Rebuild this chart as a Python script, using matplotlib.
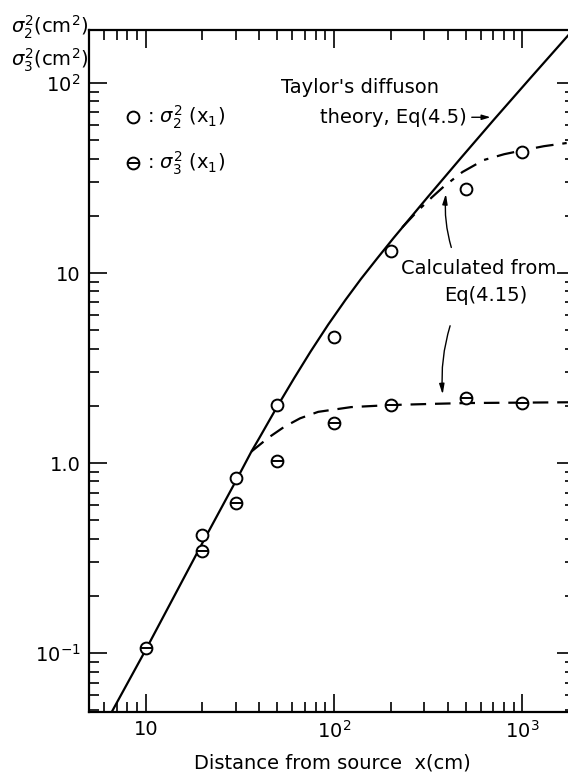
import numpy as np
import matplotlib
matplotlib.use("Agg")
import matplotlib.pyplot as plt
from matplotlib.ticker import FixedLocator, FixedFormatter, LogLocator, NullFormatter

plt.rcParams['font.family'] = ['DejaVu Sans']
plt.rcParams['mathtext.fontset'] = 'dejavusans'

#%% data
# measured variances (cm^2) vs distance from source (cm)
x_sig2 = [20, 30, 50, 100, 200, 500, 1000]
sig2 = [0.42, 0.83, 2.02, 4.6, 13.1, 27.7, 43.4]

x_sig3 = [10, 20, 30, 50, 100, 200, 500, 1000]
sig3 = [0.106, 0.344, 0.62, 1.02, 1.62, 2.02, 2.2, 2.07]

# Taylor's diffusion theory, Eq(4.5)
x_taylor = [6.45, 10, 20, 30, 36.4, 40, 50, 61.4, 75, 93, 115, 139, 170, 207,
            314, 470, 703, 1100, 1730, 1900]
y_taylor = [0.047, 0.104, 0.38, 0.80, 1.15, 1.35, 1.99, 2.80, 3.86, 5.35, 7.23, 9.32, 12.0, 15.3,
            25.1, 40.2, 63.9, 106, 176, 195]

# Eq(4.15) for sigma_2^2 (dash-dot)
x_calc2 = [230, 280, 330, 382, 480, 622, 800, 1000, 1300, 1900]
y_calc2 = [17.4, 21.4, 25.0, 28.5, 34.0, 39.3, 42.2, 44.2, 46.5, 49.0]

# Eq(4.15) for sigma_3^2 (dashed)
x_calc3 = [36.4, 44.8, 54.3, 66, 82.3, 123, 200, 340, 512, 1000, 1900]
y_calc3 = [1.15, 1.36, 1.55, 1.72, 1.86, 1.97, 2.02, 2.05, 2.07, 2.08, 2.09]

#%% plot
fig = plt.figure(figsize=(5.68, 7.77), dpi=100)
ax = fig.add_axes([89/568, 65/777, (575-89)/568, (712-30)/777])
ax.set_xscale('log')
ax.set_yscale('log')
ax.set_xlim(5, 1900)
ax.set_ylim(0.049, 190)

ax.plot(x_taylor, y_taylor, color='black', lw=1.6)
ax.plot(x_calc2, y_calc2, color='black', lw=1.6, dashes=(8, 4, 2, 4))
ax.plot(x_calc3, y_calc3, color='black', lw=1.6, dashes=(7, 4))

ms = 8.5
ax.plot(x_sig2, sig2, 'o', ms=ms, mfc='white', mec='black', mew=1.4, zorder=3)
ax.plot(x_sig3, sig3, 'o', ms=ms, mfc='white', mec='black', mew=1.4, zorder=3)
ax.plot(x_sig3, sig3, '_', ms=ms, mec='black', mew=1.4, zorder=4)

# legend keys
ax.plot([8.6], [66], 'o', ms=ms, mfc='white', mec='black', mew=1.4)
ax.plot([8.6], [38], 'o', ms=ms, mfc='white', mec='black', mew=1.4)
ax.plot([8.6], [38], '_', ms=ms, mec='black', mew=1.4)
ax.text(10.2, 66, r': $\sigma_2^2$ (x$_1$)', fontsize=14, va='center')
ax.text(10.2, 38, r': $\sigma_3^2$ (x$_1$)', fontsize=14, va='center')

# annotations
ax.text(52, 95, "Taylor's diffuson", fontsize=14, va='center')
ax.text(505, 66, "theory, Eq(4.5)", fontsize=14, va='center', ha='right')
ax.annotate('', xy=(700, 66), xytext=(520, 66),
            arrowprops=dict(arrowstyle='-|>,head_length=0.5,head_width=0.15',
                            color='black', lw=1))
ax.text(585, 10.5, "Calculated from", fontsize=14, va='center', ha='center')
ax.text(640, 7.6, "Eq(4.15)", fontsize=14, va='center', ha='center')
ax.annotate('', xy=(393, 27), xytext=(423, 13.2),
            arrowprops=dict(arrowstyle='-|>,head_length=0.6,head_width=0.15',
                            color='black', lw=1, connectionstyle='arc3,rad=-0.1'))
ax.annotate('', xy=(378, 2.22), xytext=(417, 5.45),
            arrowprops=dict(arrowstyle='-|>,head_length=0.6,head_width=0.15',
                            color='black', lw=1, connectionstyle='arc3,rad=0.1'))

# axes and ticks
ax.xaxis.set_major_locator(FixedLocator([10, 100, 1000]))
ax.xaxis.set_major_formatter(FixedFormatter(['10', r'10$^2$', r'10$^3$']))
ax.yaxis.set_major_locator(FixedLocator([0.1, 1, 10, 100]))
ax.yaxis.set_major_formatter(FixedFormatter([r'10$^{-1}$', '1.0', '10', r'10$^2$']))
ax.xaxis.set_minor_locator(LogLocator(base=10, subs=np.arange(2, 10)))
ax.yaxis.set_minor_locator(LogLocator(base=10, subs=np.arange(2, 10)))
ax.xaxis.set_minor_formatter(NullFormatter())
ax.yaxis.set_minor_formatter(NullFormatter())
ax.tick_params(which='both', direction='in', top=True, right=True, width=1.2,
               labelsize=14)
ax.tick_params(which='major', length=13, pad=6)
ax.tick_params(which='minor', length=7)
for s in ax.spines.values():
    s.set_linewidth(1.6)

ax.set_xlabel("Distance from source  x(cm)", fontsize=14, labelpad=8)
fig.text(0.02, 0.965, r'$\sigma_2^2$(cm$^2$)', fontsize=14, va='center')
fig.text(0.02, 0.922, r'$\sigma_3^2$(cm$^2$)', fontsize=14, va='center')

fig.savefig('out.png', dpi=100)
